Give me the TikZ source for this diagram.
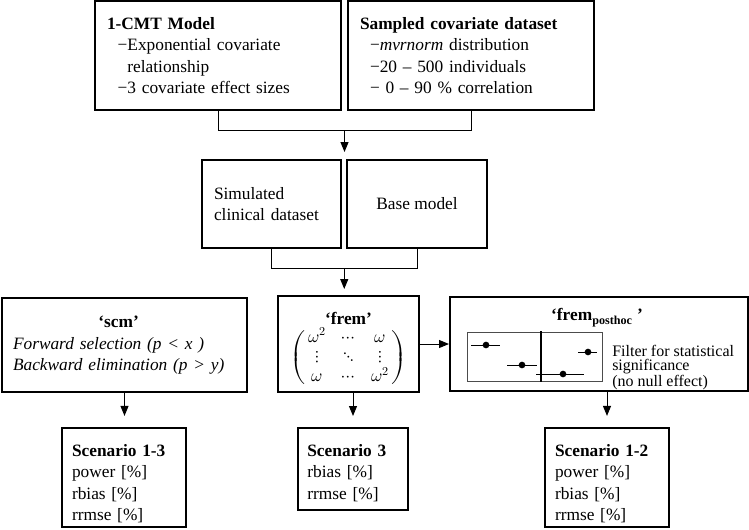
\documentclass[tikz,border=0pt]{standalone}
\usepackage{amsmath}
\usepackage{fontspec}
\usepackage{unicode-math}
\setmainfont{Liberation Serif}
\usetikzlibrary{arrows.meta,calc}

\tikzset{
  blk/.style={draw, line width=1.5pt, inner xsep=9pt, align=left, font=\fontsize{13}{16}\selectfont},
  lnk/.style={line width=0.75pt},
  arr/.style={line width=0.75pt, -{Triangle[length=7.5pt,width=6pt]}},
  dot/.style={circle, fill, inner sep=0pt, minimum size=5pt},
}

\begin{document}
\begin{tikzpicture}[x=0.75pt,y=0.75pt,yscale=-1,xscale=1]
		\useasboundingbox (0,0) rectangle (749,529);
		
		%Shape: Rectangle [1-CMT model]
		\node[blk, text width=166.5pt, minimum height=81.75pt] (cmt) at (218,55.5) {\textbf{1-CMT Model}\\ \hspace*{8pt}−Exponential covariate\\ \hspace*{8pt}\phantom{−}relationship\\ \hspace*{8pt}−3 covariate effect sizes};
		%Shape: Rectangle [sampled dataset]
		\node[blk, text width=166.5pt, minimum height=81.75pt] (smp) at (471,55.5) {\textbf{Sampled covariate dataset}\\ \hspace*{7.5pt}−\textit{mvrnorm} distribution\\ \hspace*{7.5pt}−20 – 500 individuals\\ \hspace*{7.5pt}− 0 – 90 \% correlation};
		%Straight Lines [bracket 1]
		\draw[lnk] (cmt.south) -- ++(0,19) -| (smp.south);
		\coordinate (j1) at ($(cmt.south)!0.5!(smp.south)+(0,19)$);
		\coordinate (t1) at ($(j1)+(0,22)$);
		\draw[arr] (j1) -- (t1);
		
		%Shape: Rectangle [simulated dataset]
		\node[blk, text width=86.25pt, minimum height=66pt] (sim) at (271.5,204) {Simulated\\ clinical dataset};
		%Shape: Rectangle [base model]
		\node[blk, minimum width=105pt, minimum height=66pt, align=center] (base) at (417,204) {Base model};
		%Straight Lines [bracket 2]
		\draw[lnk] (sim.south) -- ++(0,19) -| (base.south);
		\coordinate (j2) at ($(sim.south)!0.5!(base.south)+(0,19)$);
		\coordinate (t2) at ($(j2)+(0,21)$);
		\draw[arr] (j2) -- (t2);
		
		%Shape: Rectangle [scm]
		\node[blk, inner xsep=8.25pt, text width=167.25pt, minimum height=70.5pt] (scm) at (124.5,345) {\begin{tabular}{@{}l@{}}\multicolumn{1}{@{}c@{}}{\textbf{‘scm’}}\\ \textit{Forward selection (p < x )}\\ \textit{Backward elimination (p > y)}\end{tabular}};
		%Shape: Rectangle [frem]
		\node[blk, inner xsep=3pt, minimum width=105.75pt, minimum height=70.5pt, align=center] (frem) at (348.5,344) {\rule{0pt}{18pt}\textbf{‘frem’}\\[1pt] {\renewcommand{\arraystretch}{0.9}\setlength{\arraycolsep}{6pt}$\left(\mkern3mu\begin{matrix} \omega^2 & \cdots & \omega\\ \vdots & \ddots & \vdots\\ \omega & \cdots & \omega^2 \end{matrix}\mkern3mu\right)$}};
		%Shape: Rectangle [frem posthoc]
		\node[blk, minimum width=223.5pt, minimum height=70.5pt] (posthoc) at (599,344) {};
		
		% Text Node
		\node[font=\fontsize{13}{16}\selectfont] (phtitle) at (597,318) {\textbf{‘frem\textsubscript{posthoc} ’}};
		% Text Node
		\node[anchor=west, align=left, inner sep=0.75pt, font=\fontsize{12}{10.5}\selectfont] (filt) at (611,368) {Filter for statistical\\ significance\\ (no null effect)};
		
		%Shape: Rectangle [forest plot]
		\draw[line width=0.6pt, black!70] (467,332) rectangle (602,381);
		\draw[line width=1.2pt] (541,331) -- (541,382);
		\draw[line width=0.75pt] (471,345) -- (500,345);
		\draw[line width=0.75pt] (507,365) -- (537,365);
		\draw[line width=0.75pt] (536,374) -- (584,374);
		\draw[line width=0.75pt] (578,352) -- (597,352);
		\node[dot] (d1) at (486,345) {};
		\node[dot] (d2) at (522,365) {};
		\node[dot] (d3) at (563,374) {};
		\node[dot] (d4) at (588,352) {};
		
		%Shape: Rectangle [scenarios]
		\node[blk, inner xsep=7.5pt, text width=78pt, minimum height=74.25pt] (sc13) at (124,477.5) {\rule{0pt}{18pt}\textbf{Scenario 1-3}\\ power [\%]\\ rbias [\%]\\ rrmse [\%]};
		\node[blk, inner xsep=7pt, text width=68.5pt, minimum height=61.5pt] (sc3) at (353,469) {\rule{0pt}{15pt}\textbf{Scenario 3}\\ rbias [\%]\\ rrmse [\%]};
		\node[blk, inner xsep=7.5pt, text width=78pt, minimum height=74.25pt] (sc12) at (607,477.5) {\rule{0pt}{18pt}\textbf{Scenario 1-2}\\ power [\%]\\ rbias [\%]\\ rrmse [\%]};
		
		%Straight Lines [arrows]
		\draw[arr] (frem) -- (posthoc);
		\draw[arr, shorten >=8.25pt] (scm.south) -- (scm.south |- sc13.north);
		\draw[arr, shorten >=8.25pt] (sc3.north |- frem.south) -- (sc3.north);
		\draw[arr, shorten >=8.25pt] (sc12.north |- posthoc.south) -- (sc12.north);
		
\end{tikzpicture}
\end{document}
